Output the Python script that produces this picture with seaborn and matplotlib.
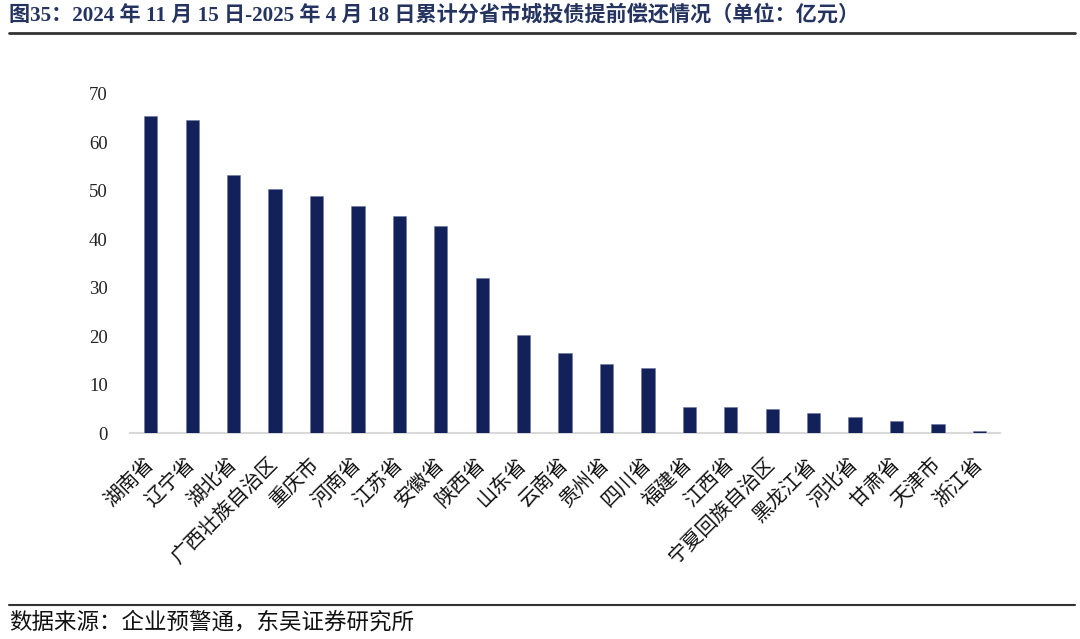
import matplotlib
matplotlib.use("Agg")
import matplotlib.pyplot as plt
import seaborn as sns
import pandas as pd
from matplotlib.lines import Line2D

provinces = ["湖南省", "辽宁省", "湖北省", "广西壮族自治区", "重庆市", "河南省", "江苏省",
             "安徽省", "陕西省", "山东省", "云南省", "贵州省", "四川省", "福建省", "江西省",
             "宁夏回族自治区", "黑龙江省", "河北省", "甘肃省", "天津市", "浙江省"]
repay = [65.5, 64.6, 53.3, 50.4, 48.9, 46.8, 44.9, 42.8, 32.0, 20.4, 16.6, 14.4, 13.6,
         5.4, 5.4, 5.0, 4.3, 3.5, 2.5, 1.9, 0.6]
yticks = [0, 10, 20, 30, 40, 50, 60, 70]

title_text = "图35：2024 年 11 月 15 日-2025 年 4 月 18 日累计分省市城投债提前偿还情况（单位：亿元）"
source_text = "数据来源：企业预警通，东吴证券研究所"

sns.set_style("white")
plt.rcParams['font.family'] = ['Liberation Serif', 'Noto Sans CJK SC', 'DejaVu Sans']

df = pd.DataFrame({"province": provinces, "repay": repay})

fig = plt.figure(figsize=(10.8, 6.39), dpi=100)
ax = fig.add_axes([0.1204, 0.3216, 0.8056, 0.5314])

sns.barplot(data=df, x="province", y="repay", color="#13215B", width=0.32,
            saturation=1, ax=ax, edgecolor="#6c77a0", linewidth=0.4, zorder=3)

ax.set_ylim(0, 70)
ax.set_xlim(-0.5, len(provinces) - 0.5)
ax.set_yticks(yticks)
ax.set_yticklabels([str(t) for t in yticks], fontsize=13.5, color="#222222")
ax.set_xticks(range(len(provinces)))
ax.set_xticklabels(provinces, rotation=45, ha="right", va="center", rotation_mode="anchor",
                   fontsize=14.5, color="#111111", family=['Noto Sans CJK SC'])
ax.tick_params(axis="y", length=0, pad=16)
ax.tick_params(axis="x", length=0, pad=20)
ax.set_xlabel("")
ax.set_ylabel("")

for side in ["left", "right", "top"]:
    ax.spines[side].set_visible(False)
ax.spines["bottom"].set_color("#d9d9d9")
ax.spines["bottom"].set_linewidth(1.5)
ax.spines["bottom"].set_zorder(1)

fig.text(0.008, 0.977, title_text, fontsize=15.2, fontweight="bold", color="#24335F",
         ha="left", va="center")
fig.add_artist(Line2D([0.008, 0.995], [0.948, 0.948], transform=fig.transFigure,
                      color="#333333", linewidth=2))
fig.add_artist(Line2D([0.008, 0.995], [0.053, 0.053], transform=fig.transFigure,
                      color="#333333", linewidth=1.5))
fig.text(0.008, 0.026, source_text, fontsize=16.2, color="#111111", ha="left", va="center",
         family=['Noto Sans CJK SC'])

fig.savefig("out.png", dpi=100)
